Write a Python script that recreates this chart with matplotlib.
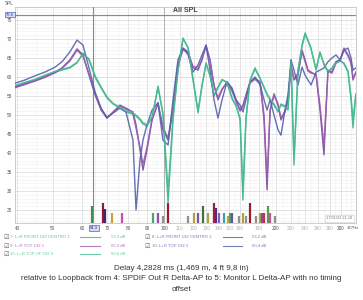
import matplotlib
matplotlib.use('Agg')
import matplotlib.pyplot as plt
from matplotlib.lines import Line2D
from matplotlib.ticker import NullFormatter

plt.rcParams['font.family'] = ['Liberation Sans', 'DejaVu Sans']

# frequency grid (Hz) shared by all traces
freq = [39.6, 42.0, 44.7, 47.6, 50.7, 52.9, 55.6, 58.1, 60.3, 62.6,
        65.0, 67.5, 70.0, 72.7, 75.9, 78.8, 82.3, 83.9, 86.0, 87.6,
        89.8, 92.7, 96.2, 99.2, 102.4, 105.6, 108.9, 112.4, 116.0, 119.6,
        123.4, 126.5, 129.7, 133.0, 136.3, 139.7, 143.3, 147.8, 152.5, 156.3,
        160.3, 163.2, 166.3, 170.5, 175.9, 181.6, 186.1, 189.6, 193.2, 198.0,
        203.0, 206.8, 212.0, 216.0, 220.1, 224.2, 229.9, 235.7, 240.2, 244.7,
        249.3, 257.2, 263.6, 270.2, 277.0, 284.0, 291.2, 298.6, 306.1, 313.8,
        319.7, 323.7, 329.5]

spl_7 = [57.6, 58.4, 59.2, 60.3, 61.3, 61.8, 62.4, 63.7, 66.3, 64.5,
         60.0, 57.1, 54.5, 52.9, 51.8, 50.8, 50.3, 49.7, 48.7, 47.6,
         47.1, 49.2, 57.6, 50.0, 26.8, 48.7, 61.8, 70.3, 67.6, 59.2,
         50.5, 57.9, 63.7, 60.5, 55.0, 57.1, 59.2, 58.7, 54.5, 52.6,
         48.7, 27.6, 48.7, 59.2, 62.4, 59.7, 57.1, 55.3, 54.0, 52.6,
         50.8, 52.9, 52.4, 51.3, 64.5, 36.8, 61.8, 68.4, 71.6, 69.7,
         67.6, 61.8, 66.6, 63.2, 61.3, 62.4, 64.0, 64.5, 63.4, 61.3,
         54.0, 46.6, 55.3]

spl_8 = [57.4, 58.2, 59.0, 60.0, 61.3, 62.4, 64.5, 67.4, 65.8, 60.5,
         55.3, 51.3, 49.2, 50.8, 52.6, 51.8, 50.8, 47.4, 40.8, 35.5,
         40.8, 48.7, 53.2, 46.1, 43.4, 51.3, 63.2, 67.6, 66.6, 62.4,
         61.8, 64.5, 68.4, 64.5, 57.9, 54.0, 56.6, 58.7, 56.6, 54.0,
         51.3, 52.6, 55.3, 58.7, 59.7, 58.7, 48.7, 30.3, 51.3, 55.3,
         52.6, 48.7, 50.8, 54.0, 63.2, 59.2, 60.5, 67.1, 64.5, 61.8,
         61.3, 60.5, 51.3, 39.5, 61.8, 61.3, 64.0, 64.5, 67.6, 65.8,
         64.0, 59.2, 61.3]

spl_9 = [57.2, 58.0, 58.9, 59.9, 61.1, 62.2, 64.2, 67.0, 65.5, 60.8,
         55.6, 51.6, 49.5, 50.6, 52.3, 51.5, 50.2, 46.5, 41.5, 37.0,
         41.5, 48.9, 53.0, 46.8, 44.0, 51.8, 63.0, 67.2, 66.3, 62.8,
         62.3, 64.8, 68.0, 64.0, 57.5, 54.5, 56.9, 58.5, 56.2, 53.6,
         51.0, 52.2, 55.0, 58.4, 59.4, 58.2, 50.0, 33.0, 51.0, 55.6,
         52.9, 49.2, 51.1, 53.6, 62.8, 59.6, 61.0, 66.6, 64.0, 61.5,
         61.0, 60.8, 52.5, 42.0, 61.5, 61.0, 63.6, 64.2, 67.2, 65.5,
         63.6, 59.8, 61.0]

spl_10 = [58.4, 59.2, 60.3, 61.3, 62.6, 64.0, 66.6, 69.7, 68.4, 62.4,
          56.1, 51.8, 49.2, 50.5, 51.8, 50.8, 43.4, 25.0, 38.2, 43.4,
          47.4, 51.3, 53.2, 43.4, 42.1, 54.0, 64.5, 67.6, 65.8, 61.3,
          63.2, 65.8, 68.4, 61.8, 54.0, 49.2, 54.0, 58.7, 57.1, 54.0,
          52.6, 50.8, 54.0, 58.7, 60.0, 57.9, 54.0, 51.3, 54.0, 50.0,
          46.1, 44.7, 51.3, 55.3, 64.5, 61.8, 57.9, 62.6, 60.5, 59.2,
          57.9, 61.3, 61.8, 62.4, 64.0, 65.0, 65.8, 64.5, 67.1, 67.6,
          65.0, 61.8, 62.4]

spl_15 = [57.8, 58.6, 59.4, 60.5, 61.5, 62.0, 62.6, 63.9, 66.0, 64.8,
          60.4, 57.4, 54.8, 53.1, 52.0, 51.0, 50.5, 50.0, 49.0, 48.0,
          47.5, 49.6, 57.2, 50.6, 30.0, 49.5, 61.5, 70.0, 67.8, 59.6,
          51.2, 57.6, 63.4, 60.2, 55.4, 57.4, 59.4, 58.4, 54.2, 52.3,
          49.2, 30.5, 49.2, 59.0, 62.1, 59.5, 57.4, 55.6, 54.3, 52.9,
          51.1, 52.6, 52.1, 51.6, 64.0, 39.0, 61.5, 68.0, 71.2, 69.4,
          67.3, 62.1, 66.3, 63.5, 61.6, 62.1, 63.7, 64.2, 63.7, 61.6,
          55.0, 49.0, 55.6]

names = ['7: L+R FRONT 192 CENTRO 1', '8: L+R FRONT 192 CENTRO 2',
         '9: L+R TOP 192 1', '10: L+R TOP 192 2', '15: L+R TOP UP 192 3']
levels = ['53,1 dB', '53,2 dB', '60,4 dB', '60,4 dB', '60,6 dB']
series = [spl_7, spl_8, spl_9, spl_10, spl_15]
colors = ['#38b386', '#7449a5', '#9c5cae', '#5260aa', '#48bb94']

# small marker bars along the bottom
bar_freq = [63.8, 68.3, 69.2, 72.3, 76.9, 93.3, 96.2, 99.2, 102.4, 116.0,
            120.4, 123.4, 127.3, 131.3, 136.3, 138.0, 140.6, 145.1, 148.7, 150.6,
            152.5, 159.2, 163.2, 166.3, 170.5, 177.0, 181.6, 183.8, 186.1, 190.7,
            193.2, 199.3]
bar_top = [26.0, 26.8, 25.3, 24.2, 24.2, 24.2, 24.2, 23.4, 26.8, 23.4,
           24.2, 24.2, 26.0, 24.2, 26.8, 25.6, 24.2, 24.2, 23.4, 24.2,
           24.2, 23.4, 24.2, 23.4, 26.8, 23.4, 24.2, 24.2, 24.2, 26.0,
           24.2, 23.4]
bar_col = ['#3d8f50', '#8b1a3a', '#4a2070', '#c8a040', '#c050b0', '#50a070', '#9050b0', '#909090',
           '#9b1b30', '#909090', '#b0a040', '#8050a0', '#407040', '#b0a040', '#a02040', '#503080',
           '#8060c0', '#40a0a0', '#c0a050', '#50a060', '#7050a0', '#909090', '#b0a040', '#909090',
           '#9b1b30', '#909090', '#b0a040', '#8050a0', '#c03050', '#50a050', '#d050a0', '#909090']

xt_major = [40, 50, 60, 70, 80, 90, 100, 110, 120, 130, 140, 150, 160, 180,
            200, 220, 240, 260, 280, 300]
xt_light = [110, 120, 130, 140, 150, 160, 180, 220, 240, 260, 280]
xt_minor = [45, 55, 65, 75, 85, 95, 105, 115, 125, 135, 145, 155, 165, 170, 175,
            185, 190, 195, 210, 230, 250, 270, 290, 310, 320]

Y0, Y1 = 21.58, 78.42
fig = plt.figure(figsize=(3.63, 3.0), dpi=100)
fig.patch.set_facecolor('white')
ax = fig.add_axes([15/363, 77/300, 341/363, 216/300])
ax.set_xscale('log')
ax.set_xlim(39.5, 329.8)
ax.set_ylim(Y0, Y1)

ax.set_xticks(xt_major)
ax.set_xticklabels([str(v) for v in xt_major])
ax.set_xticks(xt_minor, minor=True)
ax.xaxis.set_minor_formatter(NullFormatter())
ax.set_yticks(range(25, 80, 5))
ax.set_yticks(range(22, 79), minor=True)
ax.tick_params(which='both', length=0)
ax.tick_params(axis='x', labelsize=3.4, colors='#555555', pad=2)
ax.tick_params(axis='y', labelsize=3.4, colors='#555555', pad=2)
for lab in ax.get_xticklabels():
    if int(lab.get_text()) in xt_light:
        lab.set_color('#b0b0b0')
ax.grid(which='major', color='#d8d8d8', lw=0.5)
ax.grid(which='minor', color='#efefef', lw=0.4)
ax.axvline(100, color='#aaaaaa', lw=0.6)
for s in ax.spines.values():
    s.set_color('#c4c4c4')
    s.set_linewidth(0.6)

# cursor lines
ax.axvline(64.3, color='#888888', lw=0.8, zorder=3)
ax.axhline(76.4, color='#8a8a8a', lw=0.8, zorder=3)

ax.vlines(bar_freq, Y0, bar_top, colors=bar_col, lw=1.6, zorder=2)

for vals, c in zip(series, colors):
    ax.plot(freq, vals, color=c, lw=1.0, alpha=0.9, zorder=4)

ax.text(0.99, 0.012, '17/01/22 21:18', transform=ax.transAxes, ha='right', va='bottom',
        fontsize=2.8, color='#777777',
        bbox=dict(boxstyle='square,pad=0.3', facecolor='white', edgecolor='#cccccc', lw=0.4))

fig.text(185/363, 1 - 11/300, 'All SPL', ha='center', va='center', fontsize=5,
         fontweight='bold', color='#444444')
fig.text(5/363, 1 - 3.5/300, 'SPL', ha='left', va='center', fontsize=3.4, color='#555555')
box = dict(boxstyle='square,pad=0.2', facecolor='#d6dcf6', edgecolor='#5060c0', lw=0.5)
fig.text(10/363, 1 - 14.5/300, '76.6', ha='center', va='center', fontsize=3,
         color='#2030a0', bbox=box)
fig.text(94/363, 1 - 228/300, '64.3', ha='center', va='center', fontsize=3,
         color='#2030a0', bbox=box)
fig.text(347/363, 1 - 228/300, '327Hz', ha='left', va='center', fontsize=3.2, color='#555555')

# legend block
rows = [237, 237, 246, 246, 254]
cols = [0, 1, 0, 1, 0]
col_x = [(6, 10, 80, 100, 111), (147, 152, 223, 242, 252)]
for name, lev, c, r, k in zip(names, levels, colors, rows, cols):
    cb, tx, l0, l1, vx = col_x[k]
    fy = 1 - r/300
    fig.text(cb/363, fy, '☑', ha='center', va='center', fontsize=4.5,
             color='#666666', family=['DejaVu Sans'])
    fig.text(tx/363, fy, name, ha='left', va='center', fontsize=3.1, color=c, alpha=0.8)
    fig.add_artist(Line2D([l0/363, l1/363], [fy, fy], color=c, lw=0.8, alpha=0.8))
    fig.text(vx/363, fy, lev, ha='left', va='center', fontsize=3.1, color=c, alpha=0.8)

fig.text(181.5/363, 1 - 268/300, 'Delay 4,2828 ms (1,469 m, 4 ft 9,8 in)',
         ha='center', va='center', fontsize=5.8, color='#333333')
fig.text(181.5/363, 1 - 279/300,
         'relative to Loopback from 4: SPDIF Out R Delta-AP to 5: Monitor L Delta-AP with no timing',
         ha='center', va='center', fontsize=5.8, color='#333333')
fig.text(181.5/363, 1 - 289.5/300, 'offset', ha='center', va='center', fontsize=5.8,
         color='#333333')

fig.savefig('out.png', dpi=100, facecolor='white')
